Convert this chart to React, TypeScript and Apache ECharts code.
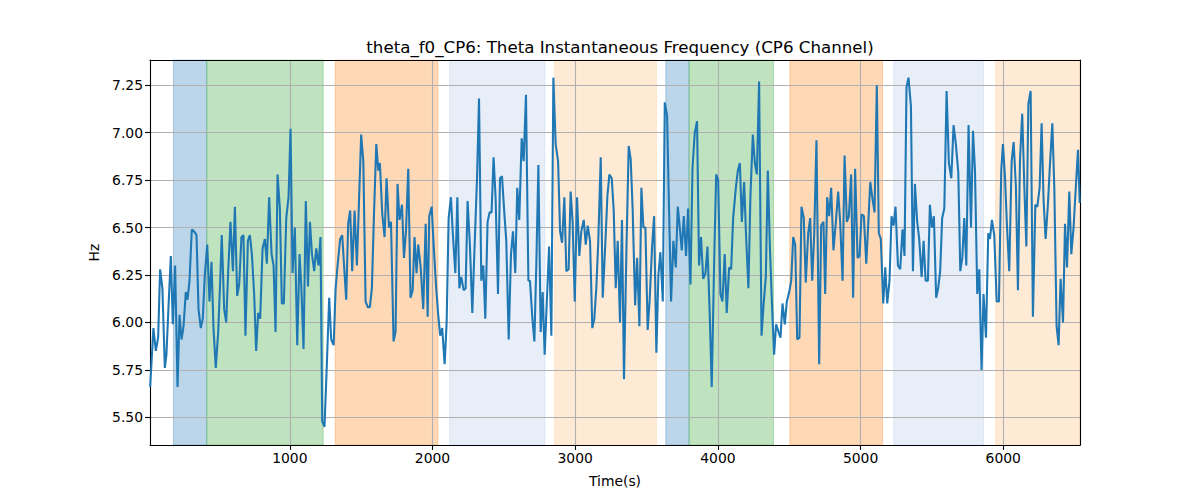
import React, { useEffect, useRef } from "react";
import * as echarts from "echarts";

// ---- data ----
const seg1Time = [21, 44, 61, 77, 91, 107, 124, 135, 149, 166, 180, 196, 213, 227, 241, 255, 271, 283, 297, 313, 329, 346, 360, 376, 390, 404, 421, 437, 451, 465, 481, 498, 512, 523, 540, 554, 568, 584, 601, 615, 631, 645, 661, 675, 689, 706, 720, 734, 750, 764, 778, 792, 809, 825, 839, 855, 872, 886, 900, 914, 930];
const seg1Hz = [5.66, 5.97, 5.85, 5.92, 6.28, 6.18, 5.76, 5.83, 6.07, 6.35, 5.99, 6.30, 5.66, 6.04, 5.91, 5.98, 6.16, 6.12, 6.22, 6.49, 6.48, 6.46, 6.07, 5.97, 6.02, 6.25, 6.41, 6.11, 6.32, 5.97, 5.76, 5.95, 6.22, 6.46, 6.07, 6.00, 6.27, 6.53, 6.27, 6.61, 6.14, 6.20, 6.45, 6.46, 5.93, 6.43, 6.46, 6.36, 6.15, 5.85, 6.05, 6.02, 6.39, 6.44, 6.31, 6.66, 6.36, 6.30, 5.95, 6.78, 6.60];

const seg2Time = [944, 958, 975, 991, 1005, 1019, 1035, 1052, 1068, 1080, 1096, 1112, 1127, 1141, 1155, 1171, 1185, 1201, 1215, 1227, 1243, 1260, 1276, 1290, 1307, 1321, 1337, 1353, 1367, 1381, 1395, 1409, 1423, 1437, 1454, 1470, 1484, 1500, 1515, 1531, 1547, 1561, 1575, 1589, 1606, 1620, 1631, 1648, 1664, 1678, 1695, 1709, 1727, 1741, 1755, 1769, 1786, 1800, 1814, 1830, 1846, 1861];
const seg2Hz = [6.10, 6.10, 6.55, 6.66, 7.02, 6.26, 6.50, 5.88, 6.36, 6.20, 5.86, 6.64, 6.19, 6.53, 6.36, 6.27, 6.39, 6.30, 6.45, 5.48, 5.45, 5.79, 6.13, 5.91, 5.88, 6.18, 6.32, 6.44, 6.46, 6.29, 6.12, 6.52, 6.59, 6.27, 6.59, 6.30, 6.62, 6.99, 6.85, 6.11, 6.08, 6.08, 6.18, 6.55, 6.94, 6.80, 6.84, 6.57, 6.45, 6.76, 6.50, 6.53, 5.90, 5.95, 6.73, 6.54, 6.62, 6.34, 6.48, 6.81, 6.13, 6.17];

const seg3Time = [1874, 1888, 1900, 1917, 1935, 1952, 1966, 1977, 1994, 2010, 2026, 2040, 2054, 2068, 2085, 2099, 2113, 2129, 2143, 2160, 2174, 2188, 2202, 2218, 2232, 2246, 2262, 2279, 2293, 2312, 2326, 2342, 2356, 2370, 2386, 2400, 2414, 2428, 2442, 2459, 2473, 2487, 2503, 2517, 2534, 2550, 2564, 2580, 2594, 2608, 2625, 2639, 2655, 2672, 2683, 2700, 2714, 2728, 2742, 2758, 2772, 2786];
const seg3Hz = [6.45, 6.26, 6.41, 6.29, 6.07, 6.52, 6.03, 6.56, 6.61, 6.38, 6.18, 6.04, 5.93, 5.97, 5.78, 6.00, 6.55, 6.66, 6.46, 6.26, 6.66, 6.18, 6.24, 6.17, 6.18, 6.64, 6.41, 6.05, 6.36, 6.76, 7.18, 6.22, 6.30, 6.02, 6.53, 6.58, 6.58, 6.87, 6.66, 6.15, 6.76, 6.77, 6.58, 6.43, 5.91, 6.36, 6.48, 6.26, 6.71, 6.54, 6.97, 6.85, 7.20, 6.22, 6.22, 6.02, 5.90, 6.32, 6.83, 5.95, 6.16, 5.83];

const seg4Time = [2817, 2833, 2847, 2863, 2880, 2894, 2908, 2924, 2938, 2954, 2968, 2982, 2997, 3013, 3029, 3043, 3060, 3074, 3088, 3104, 3120, 3134, 3148, 3162, 3179, 3193, 3212, 3226, 3240, 3256, 3270, 3284, 3298, 3314, 3328, 3342, 3359, 3375, 3389, 3403, 3420, 3434, 3450, 3464, 3478, 3492, 3508, 3522, 3539, 3553, 3569, 3583, 3597, 3614, 3628, 3644, 3658, 3672, 3688, 3705];
const seg4Hz = [6.40, 5.93, 7.29, 6.94, 6.85, 6.48, 6.42, 6.66, 6.27, 6.28, 6.69, 6.53, 6.11, 6.66, 6.35, 6.48, 6.54, 6.41, 6.51, 6.43, 5.97, 6.02, 6.18, 6.43, 6.87, 6.13, 6.43, 6.67, 6.78, 6.76, 6.59, 6.18, 6.43, 6.00, 6.54, 5.70, 6.38, 6.93, 6.86, 6.59, 6.09, 6.34, 5.98, 6.71, 6.50, 6.50, 5.96, 6.12, 6.40, 6.56, 5.84, 6.25, 6.37, 6.11, 7.16, 7.09, 6.59, 6.11, 6.43, 6.29];

const seg5Time = [3719, 3733, 3747, 3761, 3777, 3791, 3808, 3822, 3838, 3854, 3868, 3882, 3897, 3913, 3927, 3943, 3957, 3974, 3988, 4002, 4018, 4032, 4048, 4062, 4079, 4093, 4107, 4126, 4140, 4154, 4168, 4184, 4198, 4214, 4228, 4245, 4259, 4273, 4289, 4306, 4320, 4336, 4350, 4364, 4378, 4394, 4408, 4425, 4439, 4453, 4469, 4483, 4500, 4514, 4528, 4542, 4556, 4572, 4586, 4602, 4616, 4633];
const seg5Hz = [6.61, 6.50, 6.38, 6.56, 6.35, 6.60, 6.20, 6.81, 7.00, 7.06, 6.30, 6.45, 6.23, 6.26, 6.40, 6.04, 5.66, 6.32, 6.78, 6.75, 6.15, 6.11, 6.36, 6.05, 6.29, 6.28, 6.55, 6.71, 6.80, 6.84, 6.53, 6.74, 6.45, 6.18, 6.66, 6.99, 6.84, 6.78, 7.27, 5.93, 6.09, 6.24, 6.80, 6.41, 6.12, 5.83, 5.99, 5.95, 5.92, 6.10, 5.99, 6.11, 6.16, 6.22, 6.45, 6.41, 5.91, 5.92, 6.61, 6.55, 6.21, 6.47];

const seg6Time = [4647, 4661, 4675, 4691, 4710, 4724, 4740, 4752, 4766, 4780, 4794, 4810, 4827, 4843, 4857, 4874, 4888, 4904, 4918, 4934, 4948, 4962, 4979, 4993, 5007, 5023, 5040, 5054, 5068, 5084, 5098, 5114, 5128, 5142, 5159, 5173, 5187, 5203, 5217, 5231, 5245, 5262, 5278, 5294, 5308, 5322, 5336, 5353, 5367, 5381, 5397, 5411, 5428, 5442, 5456, 5472, 5486, 5500, 5514, 5530, 5544, 5558];
const seg6Hz = [6.55, 6.22, 6.46, 6.96, 5.78, 6.51, 6.53, 6.15, 6.66, 6.56, 6.71, 6.38, 6.53, 6.69, 6.53, 6.22, 6.88, 6.53, 6.56, 6.78, 6.13, 6.81, 6.34, 6.35, 6.57, 6.56, 6.31, 6.52, 6.74, 6.65, 6.58, 7.25, 6.47, 6.44, 6.10, 6.29, 6.10, 6.22, 6.56, 6.51, 6.61, 6.30, 6.28, 6.49, 6.35, 7.24, 7.29, 7.14, 6.27, 6.73, 6.53, 6.44, 6.24, 6.43, 6.22, 6.22, 6.62, 6.50, 6.56, 6.13, 6.18, 6.27];

const seg7Time = [5572, 5587, 5603, 5619, 5636, 5652, 5668, 5685, 5699, 5713, 5727, 5741, 5757, 5774, 5788, 5802, 5818, 5832, 5848, 5862, 5879, 5895, 5907, 5921, 5937, 5954, 5970, 5986, 5998, 6012, 6026, 6042, 6059, 6073, 6089, 6103, 6117, 6133, 6148, 6162, 6176, 6192, 6208, 6225, 6239, 6255, 6269, 6283, 6297, 6313, 6328, 6344, 6358, 6374, 6388, 6402, 6419, 6433, 6447, 6463, 6477, 6493, 6510, 6524, 6536];
const seg7Hz = [6.55, 6.60, 7.22, 6.84, 6.76, 7.04, 6.94, 6.79, 6.27, 6.34, 6.55, 6.30, 7.04, 6.50, 7.01, 6.80, 6.15, 6.28, 5.75, 6.15, 5.92, 6.47, 6.44, 6.54, 6.46, 6.11, 6.11, 6.80, 6.94, 6.77, 6.51, 6.27, 6.85, 6.95, 6.71, 6.17, 6.85, 7.10, 6.71, 6.40, 7.15, 7.22, 6.03, 6.62, 6.61, 6.71, 7.05, 6.64, 6.44, 6.62, 6.84, 7.05, 6.71, 5.98, 5.88, 6.23, 6.00, 6.52, 6.29, 6.69, 6.36, 6.50, 6.73, 6.91, 6.63];

const xTicks = [1000, 2000, 3000, 4000, 5000, 6000];
const yTicks = [5.5, 5.75, 6.0, 6.25, 6.5, 6.75, 7.0, 7.25];
const xRange = [20, 6538];
const yRange = [5.354, 7.383];

const bandStart = [184, 418, 1318, 2120, 2856, 3635, 3798, 4504, 5233, 5947];
const bandEnd = [418, 1234, 2038, 2788, 3569, 3798, 4390, 5154, 5862, 6538];
const bandKind = ["A", "B", "C", "D", "E", "A", "B", "C", "D", "E"];

const kindColor: Record<string, string> = {
  A: "rgba(31,119,180,0.3)",
  B: "rgba(44,160,44,0.3)",
  C: "rgba(255,127,14,0.3)",
  D: "rgba(174,199,232,0.3)",
  E: "rgba(255,187,120,0.3)",
};

const TITLE = "theta_f0_CP6: Theta Instantaneous Frequency (CP6 Channel)";
const FONT = "DejaVu Sans";

export default function App() {
  const ref = useRef<HTMLDivElement>(null);
  useEffect(() => {
    if (!ref.current) return;
    const chart = echarts.init(ref.current, null, { renderer: "svg" });
    const times = [...seg1Time, ...seg2Time, ...seg3Time, ...seg4Time, ...seg5Time, ...seg6Time, ...seg7Time];
    const hz = [...seg1Hz, ...seg2Hz, ...seg3Hz, ...seg4Hz, ...seg5Hz, ...seg6Hz, ...seg7Hz];
    const data = times.map((t, i) => [t, hz[i]]);
    const areas = bandStart.map((s, i) => [
      { xAxis: s, itemStyle: { color: kindColor[bandKind[i]], borderColor: kindColor[bandKind[i]], borderWidth: 1 } },
      { xAxis: bandEnd[i] },
    ]);
    const hidden = { show: false };
    chart.setOption({
      animation: false,
      backgroundColor: "#fff",
      title: {
        text: TITLE,
        left: 615,
        textAlign: "center",
        top: 34,
        textStyle: { fontFamily: FONT, fontSize: 16.67, fontWeight: "normal", color: "#000" },
      },
      grid: { left: 150, right: 120, top: 60, bottom: 55, containLabel: false },
      xAxis: [
        {
          type: "value",
          min: xRange[0],
          max: xRange[1],
          z: 3,
          name: "Time(s)",
          nameLocation: "middle",
          nameGap: 29,
          nameTextStyle: { fontFamily: FONT, fontSize: 13.9, color: "#000" },
          axisLine: { show: true, lineStyle: { color: "#000", width: 1.1 } },
          axisTick: { show: true, length: 4.9, lineStyle: { color: "#000", width: 1.1 }, customValues: xTicks },
          axisLabel: {
            customValues: xTicks,
            margin: 6,
            fontFamily: FONT,
            fontSize: 13.9,
            color: "#000",
            formatter: (v: number) => String(v),
          },
          splitLine: { show: true, lineStyle: { color: "#b0b0b0", width: 1.1 } },
        },
        {
          type: "value",
          position: "top",
          min: xRange[0],
          max: xRange[1],
          z: 3,
          axisLine: { show: true, onZero: false, lineStyle: { color: "#000", width: 1.1 } },
          axisTick: hidden,
          axisLabel: hidden,
          splitLine: hidden,
        },
      ],
      yAxis: [
        {
          type: "value",
          min: yRange[0],
          max: yRange[1],
          z: 3,
          name: "Hz",
          nameLocation: "middle",
          nameGap: 45,
          nameTextStyle: { fontFamily: FONT, fontSize: 13.9, color: "#000" },
          axisLine: { show: true, lineStyle: { color: "#000", width: 1.1 } },
          axisTick: { show: true, length: 4.9, lineStyle: { color: "#000", width: 1.1 }, customValues: yTicks },
          axisLabel: {
            customValues: yTicks,
            margin: 7,
            fontFamily: FONT,
            fontSize: 13.9,
            color: "#000",
            formatter: (v: number) => v.toFixed(2),
          },
          splitLine: { show: true, lineStyle: { color: "#b0b0b0", width: 1.1 } },
        },
        {
          type: "value",
          position: "right",
          min: yRange[0],
          max: yRange[1],
          z: 3,
          axisLine: { show: true, onZero: false, lineStyle: { color: "#000", width: 1.1 } },
          axisTick: hidden,
          axisLabel: hidden,
          splitLine: hidden,
        },
      ],
      series: [
        {
          type: "line",
          xAxisIndex: 0,
          yAxisIndex: 0,
          z: 1,
          data: [],
          silent: true,
          markArea: { silent: true, data: areas },
        },
        {
          type: "line",
          xAxisIndex: 0,
          yAxisIndex: 0,
          z: 5,
          data,
          showSymbol: false,
          symbol: "none",
          lineStyle: { color: "#1f77b4", width: 2.08 },
          itemStyle: { color: "#1f77b4" },
        },
      ],
    });
    return () => chart.dispose();
  }, []);
  return (
    <div
      ref={ref}
      style={{ position: "fixed", left: 0, top: 0, width: 1200, height: 500, background: "#fff" }}
    />
  );
}
